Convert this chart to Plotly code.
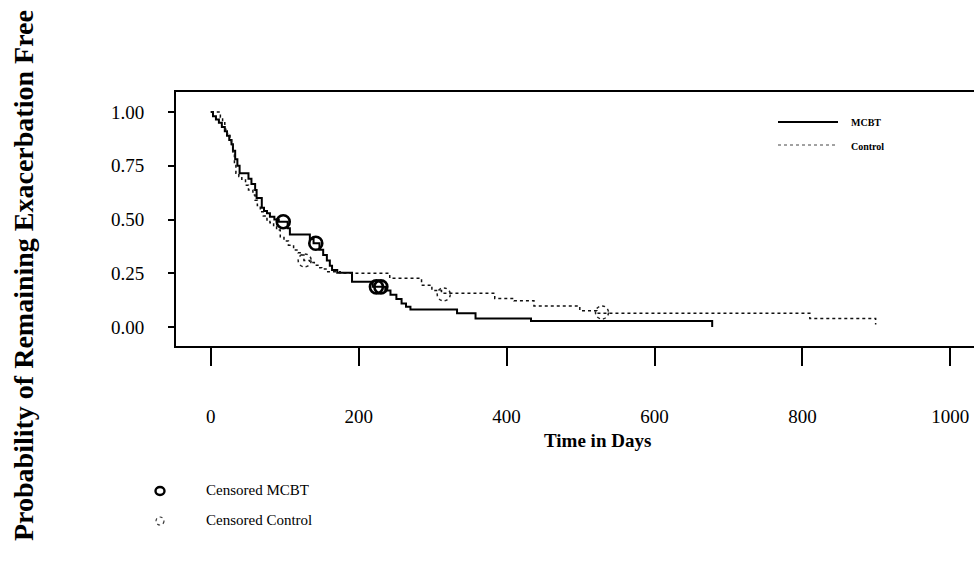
import plotly.graph_objects as go

# ---- data ----
mcbt_time = [0, 3, 7, 11, 15, 19, 22, 25, 28, 30, 33, 36, 39, 51, 55, 60, 62, 69, 72, 76, 80, 86, 92,
             104, 107, 134, 139, 147, 152, 157, 161, 164, 171, 191, 219, 236, 243, 251, 258, 264, 270,
             333, 358, 433, 678]
mcbt_surv = [1.0, 0.98, 0.965, 0.95, 0.93, 0.91, 0.89, 0.87, 0.85, 0.82, 0.78, 0.75, 0.715, 0.69, 0.665,
             0.637, 0.60, 0.555, 0.54, 0.529, 0.513, 0.50, 0.49, 0.46, 0.43, 0.41, 0.39, 0.36, 0.335,
             0.31, 0.285, 0.265, 0.253, 0.211, 0.187, 0.17, 0.15, 0.13, 0.11, 0.095, 0.082, 0.064, 0.040,
             0.028, 0.0]

ctrl_time = [0, 13, 16, 19, 22, 26, 28, 30, 32, 34, 38, 42, 47, 51, 57, 60, 63, 67, 71, 76, 80, 85, 89,
             94, 99, 105, 112, 118, 123, 126, 134, 140, 146, 150, 157, 175, 242, 285, 299, 312, 384, 410,
             437, 499, 522, 810, 899]
ctrl_surv = [1.0, 0.975, 0.95, 0.92, 0.90, 0.87, 0.846, 0.80, 0.76, 0.715, 0.70, 0.684, 0.66, 0.637,
             0.614, 0.59, 0.565, 0.536, 0.517, 0.498, 0.485, 0.468, 0.451, 0.42, 0.40, 0.381, 0.358,
             0.345, 0.335, 0.31, 0.30, 0.288, 0.276, 0.27, 0.257, 0.25, 0.227, 0.195, 0.17, 0.157,
             0.133, 0.122, 0.098, 0.076, 0.064, 0.040, 0.012]

mcbt_cens_time = [98, 142, 224, 230]
mcbt_cens_surv = [0.49, 0.39, 0.187, 0.187]
ctrl_cens_time = [127, 315, 529]
ctrl_cens_surv = [0.31, 0.152, 0.068]

x_ticks = [0, 200, 400, 600, 800, 1000]
y_ticks = [0.0, 0.25, 0.5, 0.75, 1.0]
y_ticktext = ["0.00", "0.25", "0.50", "0.75", "1.00"]

FONT = "Liberation Serif"

# plot-area placement in page pixels (body margin removed below)
W, H = 974, 569
L, T, B, R = 176, 92, 569 - 346, 0
PW = W - L - R
PH = H - T - B


def px_x(p):
    return (p - L) / float(PW)


def px_y(p):
    return ((H - B) - p) / float(PH)


fig = go.Figure()
fig.add_trace(go.Scatter(x=mcbt_time, y=mcbt_surv, mode="lines", line_shape="hv",
                         line=dict(color="black", width=2), name="MCBT", showlegend=False))
fig.add_trace(go.Scatter(x=ctrl_time, y=ctrl_surv, mode="lines", line_shape="hv",
                         line=dict(color="#111", width=1.5, dash="dot"), name="Control", showlegend=False))
fig.add_trace(go.Scatter(x=mcbt_cens_time, y=mcbt_cens_surv, mode="markers",
                         marker=dict(symbol="circle-open", size=13, color="black", line=dict(width=2.6)),
                         name="Censored MCBT", showlegend=False))

shapes = []
# dotted circles for censored control, anchored in data coords, sized in pixels
for t, s in zip(ctrl_cens_time, ctrl_cens_surv):
    shapes.append(dict(type="circle", xref="x", yref="y", xsizemode="pixel", ysizemode="pixel",
                       xanchor=t, yanchor=s, x0=-6.5, x1=6.5, y0=-6.5, y1=6.5,
                       line=dict(color="#222", width=1.5, dash="dot")))

# upper-right legend (line samples)
shapes.append(dict(type="line", xref="paper", yref="paper", x0=px_x(778), x1=px_x(838),
                   y0=px_y(122), y1=px_y(122), line=dict(color="black", width=2)))
shapes.append(dict(type="line", xref="paper", yref="paper", x0=px_x(778), x1=px_x(836),
                   y0=px_y(145), y1=px_y(145), line=dict(color="#444", width=1, dash="dot")))
# lower legend markers
shapes.append(dict(type="circle", xref="paper", yref="paper", xsizemode="pixel", ysizemode="pixel",
                   xanchor=px_x(160), yanchor=px_y(491), x0=-4.5, x1=4.5, y0=-4, y1=4,
                   line=dict(color="black", width=2.4)))
shapes.append(dict(type="circle", xref="paper", yref="paper", xsizemode="pixel", ysizemode="pixel",
                   xanchor=px_x(160), yanchor=px_y(521), x0=-4, x1=4, y0=-4, y1=4,
                   line=dict(color="#333", width=1.2, dash="dot")))

annotations = [
    dict(text="<b>MCBT</b>", xref="paper", yref="paper", x=px_x(849), y=px_y(122), xanchor="left",
         yanchor="middle", showarrow=False, font=dict(family=FONT, size=10, color="black")),
    dict(text="<b>Control</b>", xref="paper", yref="paper", x=px_x(849), y=px_y(146), xanchor="left",
         yanchor="middle", showarrow=False, font=dict(family=FONT, size=10, color="black")),
    dict(text="Censored MCBT", xref="paper", yref="paper", x=px_x(204), y=px_y(490), xanchor="left",
         yanchor="middle", showarrow=False, font=dict(family=FONT, size=15, color="black")),
    dict(text="Censored Control", xref="paper", yref="paper", x=px_x(204), y=px_y(520), xanchor="left",
         yanchor="middle", showarrow=False, font=dict(family=FONT, size=15, color="black")),
    dict(text="<b>Time in Days</b>", xref="paper", yref="paper", x=px_x(597), y=px_y(440),
         xanchor="center", yanchor="middle", showarrow=False,
         font=dict(family=FONT, size=19, color="black")),
    dict(text="<b>Probability of Remaining Exacerbation Free</b>", xref="paper", yref="paper",
         x=px_x(23), y=px_y(276), xanchor="center", yanchor="middle", textangle=-90, showarrow=False,
         font=dict(family=FONT, size=28, color="black")),
]

fig.update_layout(
    width=W, height=H,
    margin=dict(l=L, r=R, t=T, b=B, pad=0),
    paper_bgcolor="white", plot_bgcolor="white",
    font=dict(family=FONT, color="black"),
    shapes=shapes, annotations=annotations,
    xaxis=dict(range=[-47, 1032], tickvals=x_ticks, showgrid=False, zeroline=False,
               showline=True, mirror=True, linecolor="black", linewidth=2,
               ticks="outside", ticklen=18, tickwidth=2, tickcolor="black",
               ticklabelstandoff=34, tickfont=dict(family=FONT, size=19, color="black")),
    yaxis=dict(range=[-0.088, 1.093], tickvals=y_ticks, ticktext=y_ticktext, showgrid=False,
               zeroline=False, showline=True, mirror=False, linecolor="black", linewidth=2,
               ticks="outside", ticklen=6, tickwidth=1.5, tickcolor="black",
               ticklabelstandoff=20, tickfont=dict(family=FONT, size=19, color="black")),
)

fig.write_html("out.html", config={"displayModeBar": False},
               post_script="document.body.style.margin='0px';document.body.style.overflow='hidden';")
